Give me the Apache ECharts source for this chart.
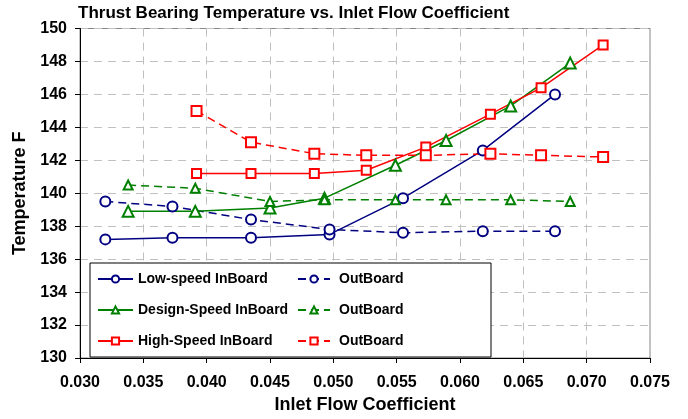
<!DOCTYPE html>
<html>
<head>
<meta charset="utf-8">
<script src="https://cdn.jsdelivr.net/npm/echarts@6/dist/echarts.min.js"></script>
<style>
  html, body { margin: 0; padding: 0; background: #fff; }
  #chart { width: 688px; height: 419px; }
</style>
</head>
<body>
<div id="chart"></div>
<script>
// Flow coefficient points for each speed
const lowFlow = [0.0320, 0.0373, 0.0435, 0.0497, 0.0555, 0.0618, 0.0675];
const designFlow = [0.0338, 0.0391, 0.0450, 0.0493, 0.0549, 0.0589, 0.0640, 0.0687];
const highFlow = [0.0392, 0.0435, 0.0485, 0.0526, 0.0573, 0.0624, 0.0664, 0.0713];

// Temperatures (F)
const lowIn = [137.2, 137.3, 137.3, 137.5, 139.7, 142.6, 146.0];
const lowOut = [139.5, 139.2, 138.4, 137.8, 137.6, 137.7, 137.7];
const designIn = [138.9, 138.9, 139.1, 139.7, 141.7, 143.2, 145.3, 147.9];
const designOut = [140.5, 140.3, 139.5, 139.6, 139.6, 139.6, 139.6, 139.5];
const highIn = [141.2, 141.2, 141.2, 141.4, 142.8, 144.8, 146.4, 149.0];
const highOut = [145.0, 143.1, 142.4, 142.3, 142.3, 142.4, 142.3, 142.2];

const pair = (xs, ys) => xs.map((x, i) => [x, ys[i]]);

const font = 'Liberation Sans, Arial, sans-serif';
const navy = '#000080';
const green = '#008000';
const red = '#ff0000';
const dash = [8, 5];

function series(name, data, color, symbol, size, dashed) {
  return {
    name: name,
    type: 'line',
    data: data,
    symbol: symbol,
    symbolSize: size,
    showAllSymbol: true,
    z: 3,
    lineStyle: { color: color, width: 1.5, type: dashed ? dash : 'solid' },
    itemStyle: { color: color, borderColor: color, borderWidth: 1.5 }
  };
}

const legendText = { fontSize: 14, fontWeight: 'bold', color: '#000', fontFamily: font };

const chart = echarts.init(document.getElementById('chart'));

chart.setOption({
  animation: false,
  textStyle: { fontFamily: font },
  title: {
    text: 'Thrust Bearing Temperature vs. Inlet Flow Coefficient',
    left: 78,
    top: 5,
    padding: 0,
    textStyle: { fontSize: 17, fontWeight: 'bold', color: '#000', fontFamily: font }
  },
  grid: {
    left: 80,
    right: 38,
    top: 28.5,
    bottom: 58.5,
    show: true,
    borderColor: '#888',
    borderWidth: 1
  },
  xAxis: {
    type: 'value',
    min: 0.030,
    max: 0.075,
    interval: 0.005,
    name: 'Inlet Flow Coefficient',
    nameLocation: 'middle',
    nameGap: 38,
    nameTextStyle: { fontSize: 18, fontWeight: 'bold', color: '#000', fontFamily: font },
    axisLine: { lineStyle: { color: '#000', width: 1 } },
    axisTick: { show: true, length: 5, lineStyle: { color: '#000' } },
    axisLabel: {
      fontSize: 16, fontWeight: 'bold', color: '#000', margin: 17,
      formatter: v => v.toFixed(3)
    },
    splitLine: { show: true, lineStyle: { color: '#c0c0c0', type: [8, 6] } }
  },
  yAxis: {
    type: 'value',
    min: 130,
    max: 150,
    interval: 2,
    name: 'Temperature F',
    nameLocation: 'middle',
    nameGap: 51,
    nameTextStyle: { fontSize: 18, fontWeight: 'bold', color: '#000', fontFamily: font },
    axisLine: { show: true, lineStyle: { color: '#000', width: 1 } },
    axisTick: { show: true, length: 5, lineStyle: { color: '#000' } },
    axisLabel: { fontSize: 16, fontWeight: 'bold', color: '#000', margin: 13 },
    splitLine: { show: true, lineStyle: { color: '#c0c0c0', type: [8, 6] } }
  },
  graphic: [{
    type: 'rect',
    z: 5,
    shape: { x: 90, y: 263, width: 401, height: 94 },
    style: { fill: '#fff', stroke: '#000', lineWidth: 1 }
  }],
  legend: [
    {
      data: ['Low-speed InBoard', 'Design-Speed InBoard', 'High-Speed InBoard'],
      orient: 'vertical',
      left: 97,
      top: 272,
      padding: 0,
      z: 6,
      itemWidth: 35,
      itemHeight: 9,
      itemGap: 17,
      textStyle: legendText,
      selectedMode: false
    },
    {
      data: ['Low OutBoard', 'Design OutBoard', 'High OutBoard'],
      orient: 'vertical',
      left: 297,
      top: 272,
      padding: 0,
      z: 6,
      itemWidth: 32,
      itemHeight: 9,
      itemGap: 17,
      formatter: () => 'OutBoard',
      textStyle: Object.assign({ padding: [0, 0, 0, 4] }, legendText),
      selectedMode: false
    }
  ],
  series: [
    series('Low-speed InBoard', pair(lowFlow, lowIn), navy, 'emptyCircle', 10, false),
    series('Low OutBoard', pair(lowFlow, lowOut), navy, 'emptyCircle', 10, true),
    series('Design-Speed InBoard', pair(designFlow, designIn), green, 'emptyTriangle', 11, false),
    series('Design OutBoard', pair(designFlow, designOut), green, 'emptyTriangle', 9, true),
    series('High-Speed InBoard', pair(highFlow, highIn), red, 'emptyRect', 9, false),
    series('High OutBoard', pair(highFlow, highOut), red, 'emptyRect', 10, true)
  ]
});
</script>
</body>
</html>
